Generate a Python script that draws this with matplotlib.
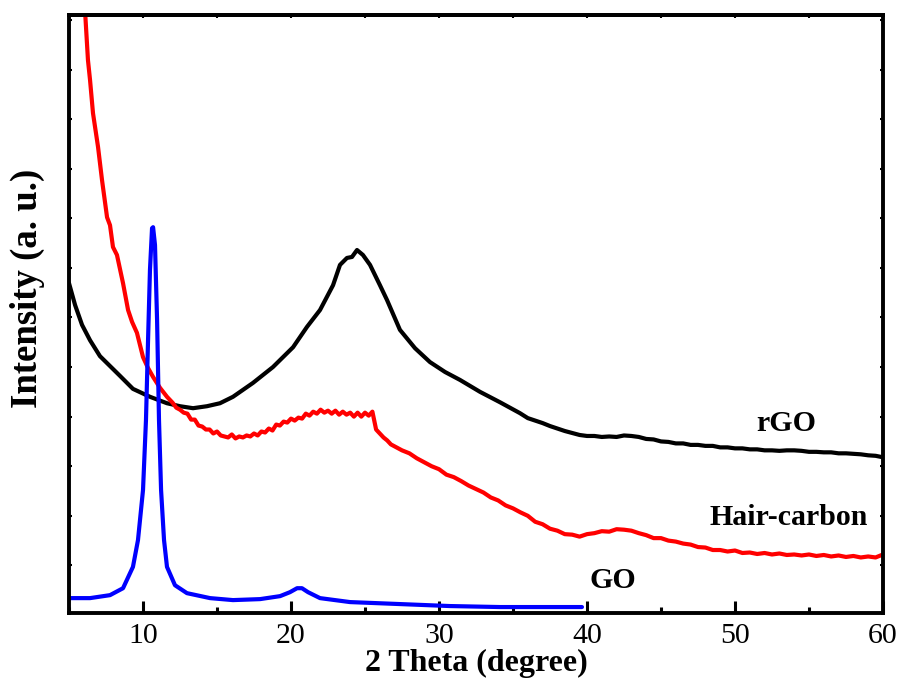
import matplotlib
matplotlib.use("Agg")
import matplotlib.pyplot as plt
from matplotlib.ticker import MultipleLocator, NullFormatter

# XRD patterns: 2-theta (degree) vs. intensity (a. u.)
rgo_x = [5.0, 5.41, 5.88, 6.42, 7.09, 7.77, 8.45, 9.32, 10.47, 11.62, 12.50, 13.38,
         14.32, 15.20, 16.08, 17.43, 18.78, 20.14, 21.08, 21.96, 22.84, 23.31, 23.78,
         24.12, 24.46, 24.86, 25.34, 26.01, 26.49, 27.36, 28.38, 29.39, 30.41, 31.42,
         32.77, 34.12, 35.47,
         36.0, 36.5, 37.0, 37.5, 38.0, 38.5, 39.0, 39.5, 40.0, 40.5, 41.0, 41.5, 42.0,
         42.5, 43.0, 43.5, 44.0, 44.5, 45.0, 45.5, 46.0, 46.5, 47.0, 47.5, 48.0, 48.5,
         49.0, 49.5, 50.0, 50.5, 51.0, 51.5, 52.0, 52.5, 53.0, 53.5, 54.0, 54.5, 55.0,
         55.5, 56.0, 56.5, 57.0, 57.5, 58.0, 58.5, 59.0, 59.5, 60.0]
rgo_y = [6.69, 6.25, 5.85, 5.54, 5.22, 5.02, 4.82, 4.56, 4.40, 4.27, 4.21, 4.17,
         4.21, 4.27, 4.40, 4.68, 5.00, 5.40, 5.81, 6.15, 6.65, 7.06, 7.20,
         7.22, 7.36, 7.26, 7.06, 6.65, 6.35, 5.75, 5.38, 5.10, 4.90, 4.74,
         4.50, 4.29, 4.07,
         3.97, 3.92, 3.87, 3.81, 3.76, 3.71, 3.67, 3.63, 3.61, 3.61, 3.59, 3.60, 3.59,
         3.62, 3.61, 3.59, 3.55, 3.54, 3.50, 3.49, 3.46, 3.46, 3.43, 3.43, 3.41, 3.41,
         3.38, 3.38, 3.36, 3.36, 3.34, 3.34, 3.32, 3.32, 3.31, 3.32, 3.32, 3.31, 3.29,
         3.29, 3.28, 3.28, 3.26, 3.26, 3.25, 3.24, 3.22, 3.21, 3.18]

hair_x = [6.0, 6.28, 6.42, 6.62, 6.96, 7.23, 7.57, 7.77, 7.97, 8.24, 8.65, 8.99, 9.26,
          9.59, 10.0, 10.34, 10.68, 11.15, 11.62,
          12.00, 12.25, 12.50, 12.75, 13.00, 13.25, 13.50, 13.75, 14.00, 14.25, 14.50,
          14.75, 15.00, 15.25, 15.50, 15.75, 16.00, 16.25, 16.50, 16.75, 17.00, 17.25,
          17.50, 17.75, 18.00, 18.25, 18.50, 18.75, 19.00, 19.25, 19.50, 19.75, 20.00,
          20.25, 20.50, 20.75, 21.00, 21.25, 21.50, 21.75, 22.00, 22.25, 22.50, 22.75,
          23.00, 23.25, 23.50, 23.75, 24.00, 24.25, 24.50, 24.75, 25.00, 25.25, 25.50,
          25.75, 26.00, 26.25, 26.50, 26.75, 27.00,
          27.5, 28.0, 28.5, 29.0, 29.5, 30.0, 30.5, 31.0, 31.5, 32.0, 32.5, 33.0, 33.5,
          34.0, 34.5, 35.0, 35.5, 36.0, 36.5, 37.0, 37.5, 38.0, 38.5, 39.0, 39.5, 40.0,
          40.5, 41.0, 41.5, 42.0, 42.5, 43.0, 43.5, 44.0, 44.5, 45.0, 45.5, 46.0, 46.5,
          47.0, 47.5, 48.0, 48.5, 49.0, 49.5, 50.0, 50.5, 51.0, 51.5, 52.0, 52.5, 53.0,
          53.5, 54.0, 54.5, 55.0, 55.5, 56.0, 56.5, 57.0, 57.5, 58.0, 58.5, 59.0, 59.5,
          60.0]
hair_y = [12.6, 11.19, 10.79, 10.12, 9.44, 8.77, 8.02, 7.86, 7.42, 7.26, 6.69, 6.15, 5.91,
          5.69, 5.20, 4.98, 4.80, 4.58, 4.40,
          4.28, 4.18, 4.14, 4.08, 4.06, 3.94, 3.94, 3.82, 3.80, 3.74, 3.74,
          3.66, 3.70, 3.62, 3.60, 3.58, 3.64, 3.56, 3.60, 3.58, 3.62, 3.60,
          3.66, 3.62, 3.70, 3.68, 3.76, 3.72, 3.84, 3.82, 3.90, 3.88, 3.96,
          3.92, 3.98, 3.96, 4.06, 4.02, 4.10, 4.06, 4.14, 4.08, 4.12, 4.06,
          4.12, 4.04, 4.10, 4.04, 4.08, 4.00, 4.08, 4.00, 4.08, 4.02, 4.10,
          3.74, 3.66, 3.58, 3.52, 3.44, 3.40,
          3.32, 3.26, 3.16, 3.08, 3.00, 2.94, 2.83, 2.78, 2.70, 2.61, 2.54, 2.47, 2.37,
          2.31, 2.21, 2.15, 2.07, 2.00, 1.88, 1.83, 1.74, 1.70, 1.63, 1.62, 1.58, 1.63,
          1.65, 1.69, 1.68, 1.73, 1.72, 1.70, 1.65, 1.61, 1.55, 1.55, 1.50, 1.48, 1.44,
          1.42, 1.37, 1.36, 1.31, 1.31, 1.28, 1.30, 1.25, 1.26, 1.23, 1.25, 1.22, 1.24,
          1.21, 1.22, 1.20, 1.22, 1.19, 1.21, 1.18, 1.20, 1.17, 1.19, 1.16, 1.18, 1.16,
          1.22]

go_x = [5.0, 6.42, 7.77, 8.65, 9.32, 9.66, 10.0, 10.20, 10.34, 10.47, 10.61, 10.68,
        10.81, 10.95, 11.08, 11.22, 11.42, 11.62, 12.16, 12.97, 14.53, 16.08, 17.91,
        19.26, 19.93, 20.41, 20.74, 21.15, 21.96, 23.99, 27.36, 30.74, 34.12, 37.50, 39.66]
go_y = [0.34, 0.34, 0.40, 0.54, 0.97, 1.51, 2.52, 3.93, 5.54, 6.96, 7.80, 7.82,
        7.46, 5.95, 3.93, 2.52, 1.51, 0.97, 0.60, 0.44, 0.34, 0.30, 0.32,
        0.38, 0.46, 0.54, 0.54, 0.46, 0.34, 0.26, 0.22, 0.18, 0.16, 0.16, 0.16]

series_labels = ["rGO", "Hair-carbon", "GO"]
label_pos = [(53.45, 3.87), (53.65, 1.96), (41.76, 0.69)]
colors = ["black", "red", "blue"]

serif = ["Liberation Serif", "DejaVu Serif"]
plt.rcParams["font.family"] = serif

fig = plt.figure(figsize=(9.01, 6.90), dpi=100)
ax = fig.add_axes([0.0766, 0.1116, 0.9034, 0.8667])

for xs, ys, c in [(rgo_x, rgo_y, colors[0]), (hair_x, hair_y, colors[1]), (go_x, go_y, colors[2])]:
    ax.plot(xs, ys, color=c, lw=3.0, solid_joinstyle="round", solid_capstyle="round")

for text, (tx, ty) in zip(series_labels, label_pos):
    ax.text(tx, ty, text, fontsize=21.5, fontweight="bold", ha="center", va="center")

ax.set_xlim(5, 60)
ax.set_ylim(0.04, 12.10)

for s in ax.spines.values():
    s.set_linewidth(2.8)

ax.xaxis.set_major_locator(MultipleLocator(10))
ax.xaxis.set_minor_locator(MultipleLocator(5))
ax.tick_params(axis="x", which="major", direction="in", length=9, width=2.2,
               labelsize=21.5, pad=7, top=False)
ax.tick_params(axis="x", which="minor", direction="in", length=4, width=2.2, top=False)

ax.yaxis.set_major_locator(MultipleLocator(1))
ax.yaxis.set_major_formatter(NullFormatter())
ax.tick_params(axis="y", which="major", direction="in", length=2.5, width=1.5,
               left=True, right=True)

top = ax.secondary_xaxis("top")
top.xaxis.set_major_locator(MultipleLocator(5))
top.xaxis.set_major_formatter(NullFormatter())
top.tick_params(direction="in", length=2.5, width=1.5)
top.spines["top"].set_linewidth(2.8)

ax.set_xlabel("2 Theta (degree)", fontsize=23, fontweight="bold", labelpad=0)
ax.set_ylabel("Intensity (a. u.)", fontsize=26.5, fontweight="bold")
ax.yaxis.set_label_coords(-0.030, 0.542)

fig.savefig("out.png", dpi=100)
